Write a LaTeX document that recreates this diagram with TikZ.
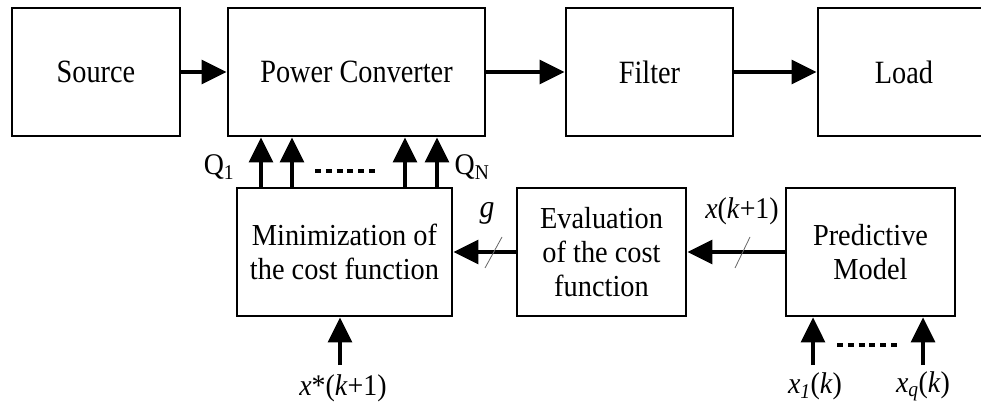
\documentclass[tikz,border=0pt]{standalone}
\usepackage{fontspec}
\setmainfont{Liberation Serif}[FakeStretch=0.93]
\newfontfamily\topfont{Liberation Serif}[FakeStretch=0.87]
\usetikzlibrary{arrows.meta}
\begin{document}
\begin{tikzpicture}[x=1pt,y=-1pt,
  box/.style={draw, line width=2.8pt, align=center, inner sep=0pt,
    font=\fontsize{30.5}{34}\selectfont},
  topbox/.style={box, minimum height=128pt, font=\topfont\fontsize{32.5}{34}\selectfont},
  botbox/.style={box, minimum height=128pt},
  arr/.style={line width=3.2pt, -{Triangle[length=25pt,width=24pt]}},
  lbl/.style={font=\fontsize{30}{30}\selectfont, inner sep=0pt},
  dots/.style={line width=3.5pt, dash pattern=on 6pt off 4.8pt},
  slash/.style={line width=0.8pt, black!60}]
\useasboundingbox (0,0) rectangle (981,409);
\clip (0,0) rectangle (981,409);
% top row
\node[topbox, minimum width=168pt] (src) at (96,72) {Source};
\node[topbox, minimum width=257pt] (pc) at (356.5,72) {Power Converter};
\node[topbox, minimum width=167pt] (flt) at (649.5,72) {Filter};
\node[topbox, minimum width=200pt] (load) at (918,72) {Load\kern28pt};
\draw[arr] (src) -- (pc);
\draw[arr] (pc) -- (flt);
\draw[arr] (flt) -- (load);
% bottom row
\node[botbox, minimum width=215pt] (min) at (344.5,252) {Minimization of\\the cost function};
\node[botbox, minimum width=169pt] (eval) at (601.5,252) {Evaluation\\of the cost\\function};
\node[botbox, minimum width=169pt] (pred) at (870.5,252) {Predictive\\Model};
\draw[arr] (eval) -- (min);
\draw[arr] (pred) -- (eval);
% switching signals
\coordinate (c1) at (261,0);
\coordinate (c2) at (292,0);
\coordinate (c3) at (405,0);
\coordinate (c4) at (437,0);
\foreach \c in {c1,c2,c3,c4}
  \draw[arr] (min.north -| \c) -- (pc.south -| \c);
\coordinate (d1) at (315,171);
\coordinate (d2) at (376,171);
\draw[dots] (d1) -- (d2);
\node[lbl] (qa) at (219,167) {Q\textsubscript{1}};
\node[lbl] (qb) at (472,167) {Q\textsubscript{N}};
% labels on feedback
\node[lbl, font=\fontsize{32}{32}\selectfont] (g) at (487,213) {\textit{g}};
\node[lbl] (xk) at (742,211) {\textit{x}(\textit{k}+1)};
\coordinate (s1a) at (485,268);
\coordinate (s1b) at (502,237);
\draw[slash] (s1a) -- (s1b);
\coordinate (s2a) at (735,268);
\coordinate (s2b) at (750,237);
\draw[slash] (s2a) -- (s2b);
% inputs
\coordinate (xs) at (340,365);
\draw[arr] (xs) -- (min.south -| xs);
\node[lbl] (xsl) at (343,388) {\textit{x}*(\textit{k}+1)};
\coordinate (i1) at (813,365);
\coordinate (i2) at (923,365);
\draw[arr] (i1) -- (pred.south -| i1);
\draw[arr] (i2) -- (pred.south -| i2);
\coordinate (e1) at (837,345);
\coordinate (e2) at (898,345);
\draw[dots] (e1) -- (e2);
\node[lbl] (x1l) at (815,386) {\textit{x}\textsubscript{\textit{1}}(\textit{k})};
\node[lbl] (xql) at (923,386) {\textit{x}\textsubscript{\textit{q}}(\textit{k})};
\end{tikzpicture}
\end{document}
